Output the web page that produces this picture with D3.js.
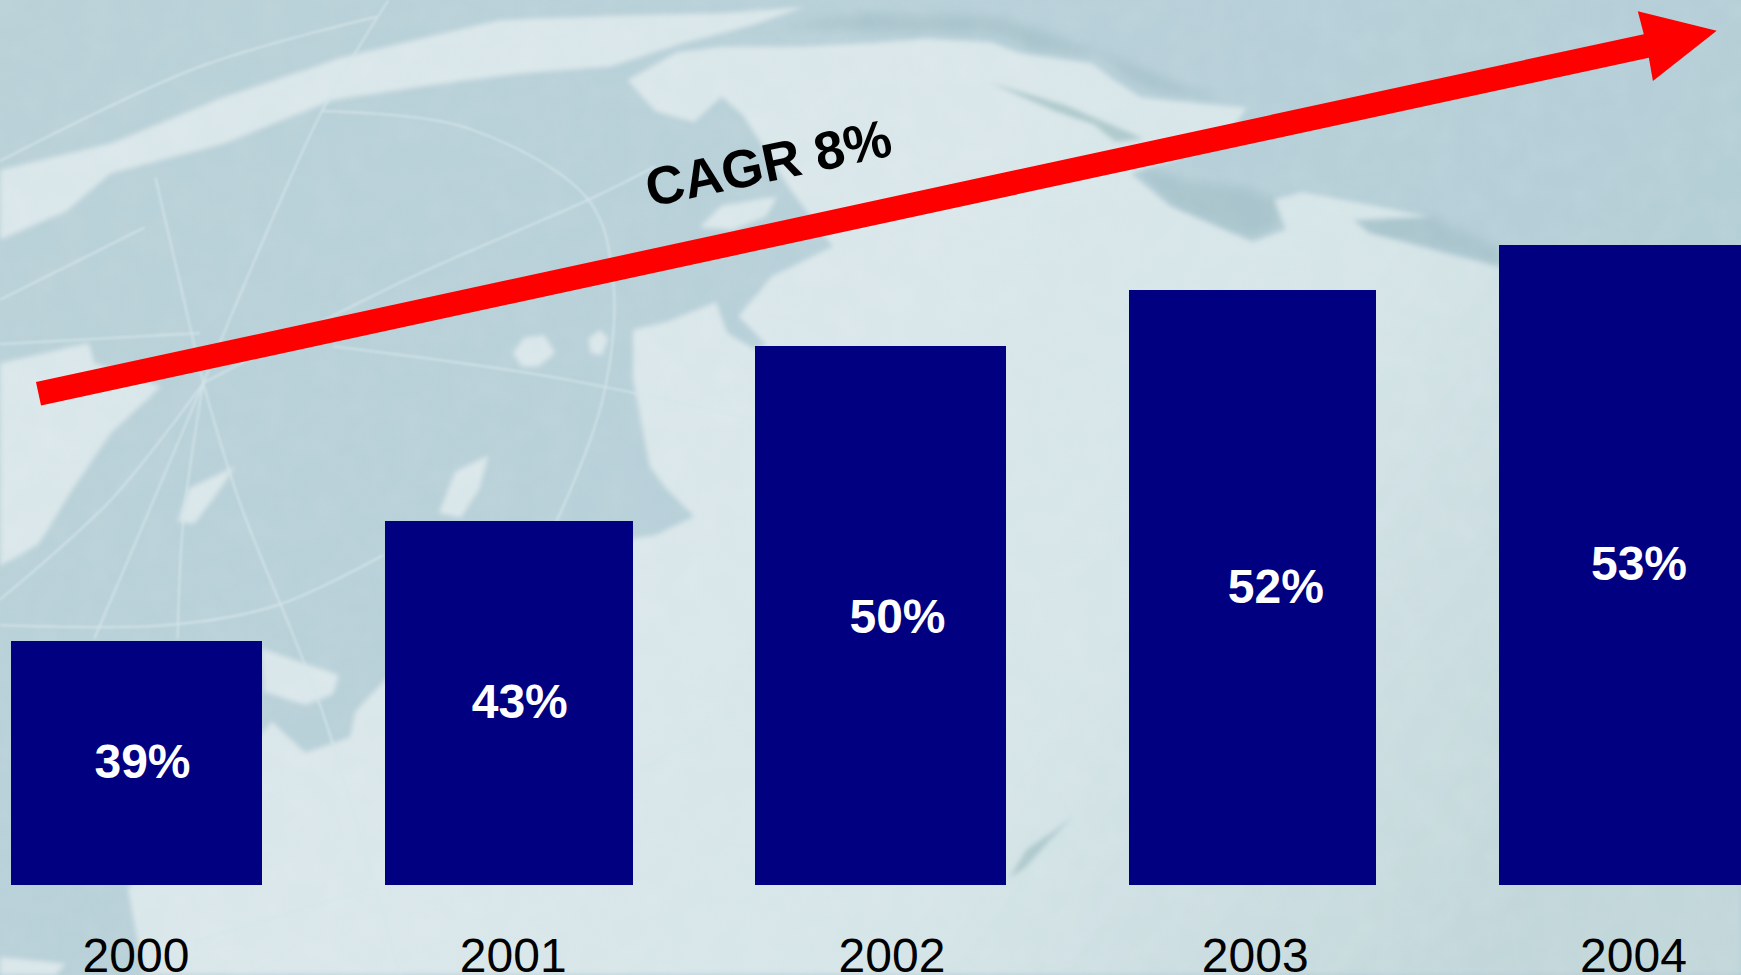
<!DOCTYPE html>
<html lang="en">

<head>
    <meta charset="UTF-8">
    <title>CAGR 8%</title>
    <script src="https://d3js.org/d3.v7.min.js"></script>
    <style>
        html, body { margin: 0; padding: 0; overflow: hidden; }
        svg { display: block; }
        svg text { font-family: 'Liberation Sans', Arial, sans-serif; }
    </style>
</head>

<body>
    <svg></svg>

    <script>
        const years = ['2000', '2001', '2002', '2003', '2004'];
        const barValues = [38.77, 43.08, 49.37, 51.38, 53.0]; // bar heights as drawn, axis is cut off at 30
        const shownValues = ['39%', '43%', '50%', '52%', '53%'];
        const growthLabel = 'CAGR 8%';

        const width = 1741;
        const height = 975;

        // the original is hand placed, bars and labels are a bit off the grid
        const barNudge = [0, 1.7, -0.6, 1.1, -0.7];
        const barWidthNudge = [2, -1, 2, -2, 0];
        const yearNudge = [0.5, 5.5, 12, 3, 9];
        const valueNudge = [7, 12, 17.5, 23.6, 14.5];
        const valueDrop = [0, 0, 2, 0, 0];

        const svg = d3.select('svg').attr('width', width).attr('height', height);
        const defs = svg.append('defs');

        // background map, traced in the 1568 wide picture
        const landGrad = defs.append('linearGradient').attr('id', 'land')
            .attr('gradientUnits', 'userSpaceOnUse')
            .attr('x1', 700).attr('y1', 300).attr('x2', 1400).attr('y2', 800);
        landGrad.append('stop').attr('offset', 0).attr('stop-color', '#dae7ea');
        landGrad.append('stop').attr('offset', 0.45).attr('stop-color', '#d6e5e8');
        landGrad.append('stop').attr('offset', 1).attr('stop-color', '#c2d7da');

        const seaGrad = defs.append('linearGradient').attr('id', 'sea')
            .attr('x1', 0).attr('y1', 0).attr('x2', 1).attr('y2', 0.4);
        seaGrad.append('stop').attr('offset', 0).attr('stop-color', '#b9d1d7');
        seaGrad.append('stop').attr('offset', 0.5).attr('stop-color', '#b8d0d9');
        seaGrad.append('stop').attr('offset', 1).attr('stop-color', '#b4ced6');

        defs.append('filter').attr('id', 'soft')
            .append('feGaussianBlur').attr('stdDeviation', 2.4);
        defs.append('filter').attr('id', 'softer')
            .append('feGaussianBlur').attr('stdDeviation', 5);
        defs.append('filter').attr('id', 'softLine')
            .append('feGaussianBlur').attr('stdDeviation', 0.9);

        const grain = defs.append('filter').attr('id', 'grain')
            .attr('x', 0).attr('y', 0).attr('width', 1).attr('height', 1);
        grain.append('feTurbulence').attr('type', 'fractalNoise')
            .attr('baseFrequency', 0.035).attr('numOctaves', 3).attr('seed', 4);
        grain.append('feColorMatrix').attr('type', 'matrix')
            .attr('values', '0 0 0 0 1  0 0 0 0 1  0 0 0 0 1  0.9 0 0 0 -0.3');

        const landShapes = [
            // long band over the top left
            [[0, 153], [100, 129], [200, 88], [310, 51], [450, 18], [560, 14], [650, 12], [725, 6], [680, 22], [615, 39], [550, 60], [470, 66], [400, 75], [300, 90], [200, 130], [100, 156], [60, 190], [0, 216]],
            // main land
            [[565, 72], [610, 47], [650, 42], [720, 42], [783, 39], [833, 35], [893, 38], [918, 48], [983, 57], [1003, 72], [1028, 88], [1123, 97], [1100, 130], [1018, 156], [1054, 186], [1128, 218], [1158, 207], [1148, 180], [1173, 173], [1288, 195], [1218, 198], [1233, 210], [1348, 240], [1568, 260], [1568, 878], [130, 878], [115, 800], [236, 660], [245, 650], [275, 678], [315, 664], [320, 641], [347, 612], [570, 485], [590, 482], [625, 465], [600, 440], [585, 420], [570, 340], [570, 297], [600, 290], [645, 272], [655, 300], [680, 315], [690, 310], [665, 285], [695, 249], [750, 222], [710, 168], [670, 105], [650, 87], [625, 110], [590, 100]],
            // corner around the arrow tail
            [[0, 327], [80, 309], [85, 327], [145, 348], [100, 390], [65, 441], [35, 490], [0, 510]],
            // bottom left edge
            [[0, 862], [60, 868], [50, 878], [0, 878]],
            // smaller patches
            [[235, 584], [305, 608], [300, 625], [275, 635], [238, 623]],
            [[462, 318], [472, 304], [490, 302], [500, 318], [485, 330], [470, 330]],
            [[530, 305], [540, 297], [548, 305], [542, 320], [532, 318]],
            [[160, 470], [170, 440], [212, 420], [195, 445], [175, 472]],
            [[395, 462], [410, 425], [440, 410], [432, 440], [415, 466]],
            [[630, 205], [650, 185], [700, 177], [690, 195], [660, 207]]
        ];
        const seaShapes = [
            [[890, 74], [960, 95], [1030, 125], [1005, 128], [985, 112], [950, 100]],
            [[968, 734], [950, 748], [925, 765], [909, 791], [925, 780], [945, 757]]
        ];
        // darker water along the coast
        const shadeShapes = [
            [[700, 25], [800, 28], [900, 30], [930, 45], [990, 50], [1015, 70], [1040, 82], [1100, 90], [1000, 50], [900, 15], [780, 12]],
            [[1020, 150], [1060, 160], [1130, 170], [1150, 180], [1150, 205], [1125, 215], [1060, 188]],
            [[1218, 198], [1290, 195], [1350, 225], [1350, 240], [1235, 210]]
        ];
        const gridLines = [
            [[183, 345], [140, 160]],
            [[183, 345], [290, 100], [350, 0]],
            [[183, 345], [370, 250], [530, 180], [590, 150]],
            [[183, 345], [100, 450], [0, 540]],
            [[183, 345], [130, 470], [85, 575]],
            [[183, 345], [165, 470], [160, 575]],
            [[183, 345], [215, 450], [290, 640], [360, 878]],
            [[0, 270], [130, 205]],
            [[0, 145], [180, 60], [340, 15]],
            [[290, 100], [420, 115], [530, 180], [552, 250], [545, 350], [510, 450], [470, 530]],
            [[0, 563], [150, 563], [250, 545], [345, 500]],
            [[575, 695], [675, 635]],
            [[175, 848], [335, 800]],
            [[300, 312], [500, 340], [680, 378]],
            [[0, 310], [180, 300]]
        ];

        const smooth = d3.line().curve(d3.curveCatmullRom.alpha(0.5));
        const polygon = d3.line().curve(d3.curveLinearClosed);

        svg.append('rect').attr('width', width).attr('height', height).attr('fill', 'url(#sea)');

        const map = svg.append('g').attr('transform', `scale(${width / 1568})`);
        map.append('g').attr('filter', 'url(#softer)').selectAll('path').data(shadeShapes).join('path')
            .attr('d', polygon)
            .attr('fill', '#a9c4cc');
        map.append('g').attr('filter', 'url(#soft)').selectAll('path').data(landShapes).join('path')
            .attr('d', polygon)
            .attr('fill', 'url(#land)');
        map.append('g').attr('filter', 'url(#soft)').selectAll('path').data(seaShapes).join('path')
            .attr('d', polygon)
            .attr('fill', '#afc9cc');
        map.append('g').attr('filter', 'url(#softLine)').selectAll('path').data(gridLines).join('path')
            .attr('d', smooth)
            .attr('fill', 'none')
            .attr('stroke', '#d3e5e9')
            .attr('stroke-width', 2)
            .attr('stroke-opacity', 0.75);

        svg.append('rect').attr('width', width).attr('height', height)
            .attr('filter', 'url(#grain)').attr('opacity', 0.13);

        // bars
        const xScale = d3.scaleBand()
            .domain(years)
            .range([11, 1749])
            .paddingInner(0.331);

        const yScale = d3.scaleLinear()
            .domain([30, 53])
            .range([885, 245]);

        svg.append('g').selectAll('rect').data(barValues).join('rect')
            .attr('x', (d, i) => xScale(years[i]) + barNudge[i])
            .attr('y', d => yScale(d))
            .attr('width', (d, i) => xScale.bandwidth() + barWidthNudge[i])
            .attr('height', d => yScale(30) - yScale(d))
            .attr('fill', '#000080')
            .attr('shape-rendering', 'crispEdges');

        svg.append('g').selectAll('text').data(barValues).join('text')
            .attr('x', (d, i) => xScale(years[i]) + xScale.bandwidth() / 2 + valueNudge[i])
            .attr('y', (d, i) => (yScale(d) + yScale(30)) / 2 + 15 + valueDrop[i])
            .attr('text-anchor', 'middle')
            .attr('font-size', 48)
            .attr('font-weight', 'bold')
            .attr('fill', 'white')
            .text((d, i) => shownValues[i]);

        svg.append('g').selectAll('text').data(years).join('text')
            .attr('x', (d, i) => xScale(d) + xScale.bandwidth() / 2 + yearNudge[i])
            .attr('y', 972)
            .attr('text-anchor', 'middle')
            .attr('font-size', 48)
            .attr('fill', 'black')
            .text(d => d);

        // growth arrow, drawn flat and then turned
        const tail = [38.5, 393.8];
        const tip = [1716.7, 30.7];
        const arrowAngle = Math.atan2(tip[1] - tail[1], tip[0] - tail[0]) * 180 / Math.PI;
        const arrowLength = Math.hypot(tip[0] - tail[0], tip[1] - tail[1]);
        const shaft = 12;
        const headWidth = 35.7;
        const headLength = 72;

        const arrowLine = d3.line();
        svg.append('path')
            .attr('transform', `translate(${tail}) rotate(${arrowAngle})`)
            .attr('d', arrowLine([
                [0, -shaft],
                [arrowLength - headLength, -shaft],
                [arrowLength - headLength - 1, -headWidth],
                [arrowLength, 0],
                [arrowLength - headLength - 1, headWidth],
                [arrowLength - headLength, shaft],
                [0, shaft]
            ]) + 'Z')
            .attr('fill', '#ff0000');

        svg.append('text')
            .attr('transform', 'translate(650,207) rotate(-12)')
            .attr('font-size', 53.5)
            .attr('font-weight', 'bold')
            .attr('fill', 'black')
            .text(growthLabel);
    </script>

</body>

</html>
